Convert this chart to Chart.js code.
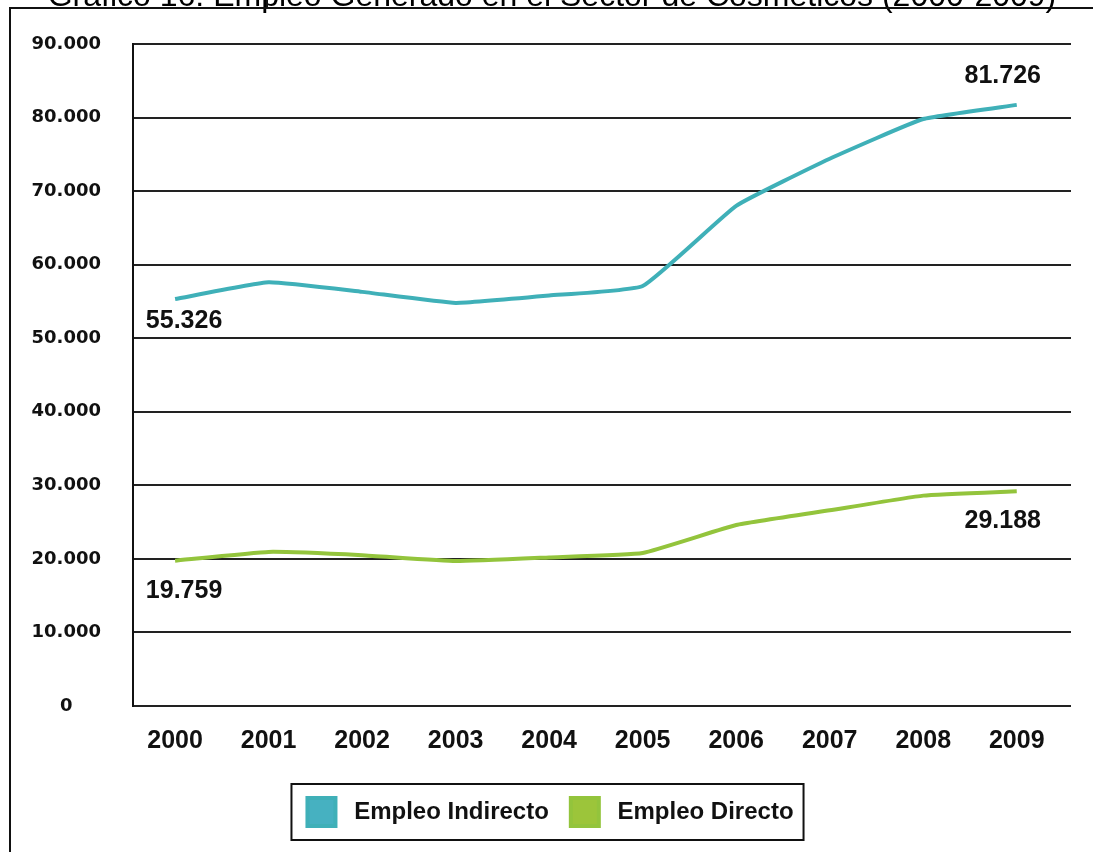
<!DOCTYPE html>
<html>
<head>
<meta charset="utf-8">
<script src="https://cdn.jsdelivr.net/npm/chart.js@4"></script>
<style>
  html, body { margin: 0; padding: 0; background: #fff; }
  canvas { display: block; }
</style>
</head>
<body>
<canvas id="empleoChart" width="1093" height="852"></canvas>
<script>
const years = [2000, 2001, 2002, 2003, 2004, 2005, 2006, 2007, 2008, 2009];
const empleoIndirecto = [55326, 57600, 56300, 54800, 55800, 57100, 68000, 74400, 79800, 81726];
const empleoDirecto = [19759, 20950, 20500, 19700, 20200, 20800, 24600, 26600, 28600, 29188];
const tituloGrafico = 'Gráfico 16: Empleo Generado en el Sector de Cosméticos (2000-2009)';

// thousands with a dot, e.g. 55.326
const fmt = (v) => String(v).replace(/\B(?=(\d{3})+(?!\d))/g, '.');
const toPoints = (vals) => years.map((yr, i) => ({ x: yr, y: vals[i] }));

// page frame + clipped caption above it
const framePlugin = {
  id: 'frame',
  beforeDraw(chart) {
    const c = chart.ctx;
    c.save();
    c.fillStyle = '#fff';
    c.fillRect(0, 0, chart.width, chart.height);
    c.fillStyle = '#000';
    c.font = '32px "Liberation Sans", Arial, sans-serif';
    c.textAlign = 'center';
    c.textBaseline = 'alphabetic';
    c.fillText(tituloGrafico, 552, 6);
    c.strokeStyle = '#111';
    c.lineWidth = 2;
    c.beginPath();
    c.moveTo(10, 852);
    c.lineTo(10, 8);
    c.lineTo(1093, 8);
    c.moveTo(267, 0);
    c.lineTo(267, 8);
    c.stroke();
    c.restore();
  },
};

// first / last value written next to each line
const endLabels = {
  id: 'endLabels',
  afterDatasetsDraw(chart, args, opts) {
    const c = chart.ctx;
    c.save();
    c.font = 'bold 25px "Liberation Sans Narrow", "Liberation Sans", Arial, sans-serif';
    c.fillStyle = '#111';
    c.textAlign = 'center';
    c.textBaseline = 'middle';
    opts.spots.forEach((s) => {
      const pt = chart.getDatasetMeta(s.ds).data[s.i];
      const v = chart.data.datasets[s.ds].data[s.i].y;
      c.fillText(fmt(v), pt.x + s.dx, pt.y + s.dy);
    });
    c.restore();
  },
};

// box round the legend
const legendBox = {
  id: 'legendBox',
  afterDraw(chart) {
    const boxes = chart.legend.legendHitBoxes;
    if (!boxes.length) return;
    const last = boxes[boxes.length - 1];
    const left = boxes[0].left - 16;
    const right = last.left + last.width + 10;
    const c = chart.ctx;
    c.save();
    c.strokeStyle = '#111';
    c.lineWidth = 2;
    c.strokeRect(left, boxes[0].top - 14, right - left, 56);
    c.restore();
  },
};

const ctx = document.getElementById('empleoChart').getContext('2d');

new Chart(ctx, {
  type: 'line',
  data: {
    datasets: [
      {
        label: ' Empleo Indirecto',
        data: toPoints(empleoIndirecto),
        borderColor: '#3fb0b8',
        backgroundColor: '#46b1c1',
        borderWidth: 4,
        pointRadius: 0,
        tension: 0.12,
        fill: false,
      },
      {
        label: ' Empleo Directo',
        data: toPoints(empleoDirecto),
        borderColor: '#93c43c',
        backgroundColor: '#9cc53a',
        borderWidth: 4,
        pointRadius: 0,
        tension: 0.12,
        fill: false,
      },
    ],
  },
  options: {
    responsive: false,
    animation: false,
    layout: { padding: { top: 44, right: 22, left: 30, bottom: 16 } },
    plugins: {
      title: { display: false },
      tooltip: { enabled: false },
      legend: {
        position: 'bottom',
        labels: {
          boxWidth: 28,
          boxHeight: 28,
          padding: 22,
          color: '#111',
          font: { family: '"Liberation Sans", Arial, sans-serif', size: 24, weight: 'bold' },
        },
      },
      endLabels: {
        spots: [
          { ds: 0, i: 0, dx: 9, dy: 22 },
          { ds: 0, i: 9, dx: -14, dy: -29 },
          { ds: 1, i: 0, dx: 9, dy: 30 },
          { ds: 1, i: 9, dx: -14, dy: 30 },
        ],
      },
    },
    scales: {
      x: {
        type: 'linear',
        min: 1999.55,
        max: 2009.58,
        grid: { display: false, drawTicks: false },
        border: { display: false },
        ticks: {
          stepSize: 1,
          includeBounds: false,
          padding: 20,
          color: '#111',
          maxRotation: 0,
          autoSkip: false,
          font: { family: '"Liberation Sans Narrow", "Liberation Sans", Arial, sans-serif', size: 25, weight: 'bold' },
          callback: (v) => (Number.isInteger(v) ? String(v) : ''),
        },
        afterFit(scale) { scale.height = 70; },
      },
      y: {
        min: 0,
        max: 90000,
        grid: { color: '#222', lineWidth: 2, drawTicks: false },
        border: { display: true, color: '#111', width: 2 },
        ticks: {
          stepSize: 10000,
          padding: 32,
          crossAlign: 'center',
          color: '#111',
          font: { family: '"DejaVu Sans", Verdana, sans-serif', size: 18, weight: 'bold' },
          callback: (v) => fmt(v),
        },
        afterFit(scale) { scale.width = 103; },
      },
    },
  },
  plugins: [framePlugin, endLabels, legendBox],
});
</script>
</body>
</html>
